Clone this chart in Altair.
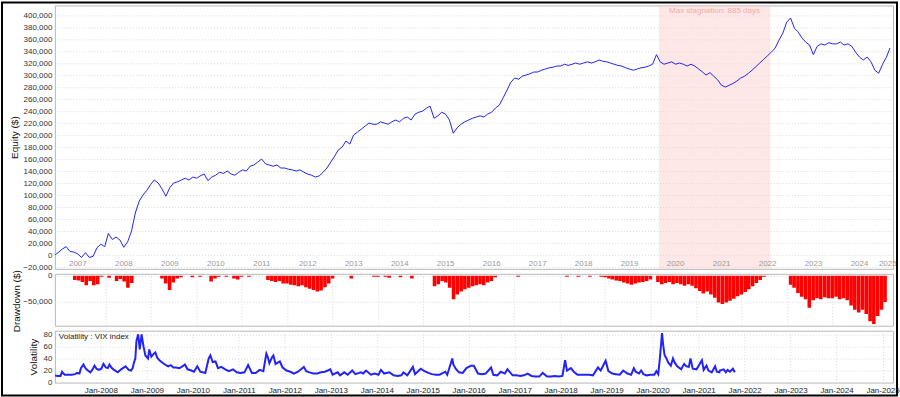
import altair as alt
import pandas as pd

FONT = "Liberation Sans"

# ---------------- data ----------------
# Monthly equity, in thousands of $, Jan-2007 .. Mar-2025
equity_k = [
    0, 5, 10, 14, 6, 5, 2, -4, 4, -4, -2, 12,            # 2007
    18, 14, 36, 26, 30, 25, 13, 22, 40, 70, 90, 100,     # 2008
    108, 118, 125, 120, 110, 98, 112, 120, 122, 125, 128, 125,  # 2009
    130, 128, 132, 135, 124, 130, 133, 138, 136, 140, 135, 133,  # 2010
    138, 142, 140, 148, 150, 155, 160, 152, 150, 148, 150, 145,  # 2011
    145, 143, 142, 140, 142, 138, 135, 133, 130, 132, 138, 145,  # 2012
    155, 165, 175, 180, 190, 185, 200, 205, 210, 215, 220, 218,  # 2013
    218, 222, 220, 218, 222, 225, 222, 228, 230, 225, 235, 238,  # 2014
    240, 245, 248, 228, 232, 238, 235, 225, 203, 212, 218, 222,  # 2015
    225, 228, 230, 232, 230, 235, 238, 245, 250, 262, 275, 288,  # 2016
    295, 293, 298, 300, 302, 305, 305, 308, 310, 312, 313, 315,  # 2017
    315, 318, 316, 318, 320, 318, 320, 322, 320, 322, 325, 323,  # 2018
    322, 320, 318, 316, 315, 312, 310, 308, 310, 312, 313, 315,  # 2019
    318, 334, 322, 318, 320, 322, 318, 320, 318, 315, 318, 315,  # 2020
    310, 305, 300, 304, 298, 292, 283, 280, 283, 286, 290, 295,  # 2021
    298, 303, 308, 314, 320, 326, 332, 338, 345, 358, 370, 388,  # 2022
    395, 378, 372, 362, 355, 350, 334, 348, 352, 350, 354, 352,  # 2023
    352, 355, 350, 352, 348, 338, 330, 325, 330, 322, 308, 303,  # 2024
    318, 330, 345,                                       # 2025
]

vix_dates = [
    "2007-01-03", "2007-01-20", "2007-02-15", "2007-02-27", "2007-03-10", "2007-03-20", "2007-04-15",
    "2007-05-15", "2007-06-10", "2007-06-27", "2007-07-15", "2007-07-27", "2007-08-16", "2007-09-01",
    "2007-09-20", "2007-10-10", "2007-10-25", "2007-11-12", "2007-11-28", "2007-12-15",
    "2008-01-05", "2008-01-22", "2008-02-10", "2008-02-25", "2008-03-10", "2008-03-25", "2008-04-15",
    "2008-05-15", "2008-06-10", "2008-07-15", "2008-08-10", "2008-08-28", "2008-09-10", "2008-09-20",
    "2008-10-01", "2008-10-10", "2008-10-24", "2008-11-05", "2008-11-20", "2008-12-05", "2008-12-20",
    "2009-01-10", "2009-01-20", "2009-02-05", "2009-02-25", "2009-03-09", "2009-03-25", "2009-04-15",
    "2009-05-10", "2009-06-01", "2009-06-20", "2009-07-10", "2009-07-30", "2009-08-20", "2009-09-15",
    "2009-10-05", "2009-10-30", "2009-11-20", "2009-12-20",
    "2010-01-10", "2010-02-05", "2010-03-01", "2010-04-10", "2010-05-07", "2010-05-20", "2010-06-08",
    "2010-06-30", "2010-07-20", "2010-08-15", "2010-09-15", "2010-10-15", "2010-11-16", "2010-12-15",
    "2011-01-15", "2011-02-15", "2011-03-16", "2011-04-15", "2011-05-15", "2011-06-15", "2011-07-15",
    "2011-08-08", "2011-08-20", "2011-09-01", "2011-09-22", "2011-10-03", "2011-10-20", "2011-11-23",
    "2011-12-15",
    "2012-01-15", "2012-02-15", "2012-03-15", "2012-04-15", "2012-06-01", "2012-06-20", "2012-07-15",
    "2012-08-15", "2012-09-15", "2012-10-15", "2012-11-15", "2012-12-28",
    "2013-01-15", "2013-02-25", "2013-03-15", "2013-04-18", "2013-05-15", "2013-06-20", "2013-07-15",
    "2013-08-28", "2013-09-15", "2013-10-08", "2013-11-15", "2013-12-15",
    "2014-01-15", "2014-02-03", "2014-03-01", "2014-04-11", "2014-05-15", "2014-06-15", "2014-07-15",
    "2014-08-01", "2014-09-01", "2014-10-15", "2014-11-01", "2014-12-16",
    "2015-01-15", "2015-02-15", "2015-03-15", "2015-04-15", "2015-05-15", "2015-06-29", "2015-07-15",
    "2015-08-24", "2015-09-01", "2015-09-20", "2015-10-15", "2015-11-15", "2015-12-14",
    "2016-01-20", "2016-02-11", "2016-03-15", "2016-04-15", "2016-05-15", "2016-06-27", "2016-07-15",
    "2016-08-15", "2016-09-12", "2016-10-15", "2016-11-04", "2016-12-15",
    "2017-01-15", "2017-02-15", "2017-03-15", "2017-04-13", "2017-05-15", "2017-06-15", "2017-07-15",
    "2017-08-11", "2017-09-15", "2017-10-15", "2017-11-15", "2017-12-15",
    "2018-01-15", "2018-02-05", "2018-02-20", "2018-03-23", "2018-04-15", "2018-05-15", "2018-06-15",
    "2018-07-15", "2018-08-15", "2018-09-15", "2018-10-24", "2018-11-15", "2018-12-24",
    "2019-01-15", "2019-02-15", "2019-03-15", "2019-04-15", "2019-05-13", "2019-06-15", "2019-07-15",
    "2019-08-05", "2019-08-20", "2019-09-15", "2019-10-02", "2019-10-20", "2019-11-15", "2019-12-15",
    "2020-01-15", "2020-01-31", "2020-02-15", "2020-02-28", "2020-03-16", "2020-03-25", "2020-04-05",
    "2020-04-20", "2020-05-05", "2020-05-25", "2020-06-11", "2020-06-25", "2020-07-15", "2020-08-15",
    "2020-09-08", "2020-09-25", "2020-10-15", "2020-10-28", "2020-11-15", "2020-12-15",
    "2021-01-27", "2021-02-10", "2021-03-04", "2021-03-20", "2021-04-15", "2021-05-12", "2021-05-25",
    "2021-06-15", "2021-06-18", "2021-07-19", "2021-08-05", "2021-08-19", "2021-09-07", "2021-09-30",
    "2021-10-15",
]
vix_values = [
    12, 11, 11, 18, 15, 13, 13, 13, 14, 16, 15, 24, 30, 24, 20, 17, 21, 28, 23, 21,
    23, 31, 25, 24, 30, 25, 21, 17, 22, 27, 21, 20, 24, 33, 40, 69, 80, 55, 80, 60, 45,
    40, 55, 43, 48, 50, 41, 36, 32, 29, 27, 29, 25, 25, 24, 26, 30, 22, 20,
    18, 27, 18, 16, 40, 45, 34, 35, 24, 26, 22, 19, 22, 17,
    16, 17, 29, 16, 16, 21, 19, 48, 42, 32, 42, 45, 31, 35, 25,
    20, 18, 15, 18, 26, 19, 17, 15, 15, 17, 18, 22,
    13, 17, 12, 17, 13, 20, 14, 17, 15, 20, 13, 15,
    13, 21, 15, 17, 12, 11, 12, 17, 12, 26, 14, 23,
    19, 16, 14, 13, 13, 18, 13, 40, 30, 23, 17, 16, 24,
    28, 28, 15, 14, 15, 25, 13, 12, 18, 15, 22, 12,
    12, 11, 12, 15, 11, 10, 10, 16, 10, 10, 11, 10,
    11, 37, 20, 24, 18, 13, 13, 13, 13, 12, 25, 20, 36,
    19, 15, 14, 13, 20, 15, 13, 24, 18, 15, 20, 14, 12, 13,
    13, 19, 14, 40, 82, 63, 46, 40, 33, 28, 40, 33, 27, 22, 31, 27, 26, 40, 23, 22,
    37, 21, 28, 20, 17, 27, 18, 17, 20, 22, 17, 21, 18, 23, 17,
]

top_years = list(range(2007, 2026))          # year labels inside the equity panel
axis_years = list(range(2008, 2026))         # "Jan-YYYY" ticks on the bottom axis
dd_ticks = [0, -50000]
stag_start = "2020-02-20"
stag_days = 885
stag_label = "Max stagnation: 885 days"
x_start = "2007-01-01"
x_end = "2025-03-25"

# ---------------- tables ----------------
eq = pd.DataFrame({
    "date": pd.date_range("2007-01-01", periods=len(equity_k), freq="MS").strftime("%Y-%m-%d"),
    "equity": [v * 1000 for v in equity_k],
})
eq["drawdown"] = eq["equity"] - eq["equity"].cummax()

vix = pd.DataFrame({"date": vix_dates, "vix": vix_values})

end_ts = pd.Timestamp(x_end)
yl = []
for y in top_years:
    a = pd.Timestamp(f"{y}-01-01")
    b = min(pd.Timestamp(f"{y + 1}-01-01"), end_ts)
    yl.append({"pos": (a + (b - a) / 2).strftime("%Y-%m-%d %H:%M"), "label": str(y)})
years_df = pd.DataFrame(yl)

s0 = pd.Timestamp(stag_start)
s1 = s0 + pd.Timedelta(days=stag_days)
stag_df = pd.DataFrame({
    "start": [s0.strftime("%Y-%m-%d")],
    "end": [s1.strftime("%Y-%m-%d")],
    "mid": [(s0 + (s1 - s0) / 2).strftime("%Y-%m-%d")],
    "label": [stag_label],
})

def dt(s):
    t = pd.Timestamp(s)
    return alt.DateTime(year=t.year, month=t.month, date=t.day)

xscale = alt.Scale(domain=[dt(x_start), dt(x_end)])
year_ticks = [alt.DateTime(year=y, month=1, date=1) for y in axis_years]

W = 840
H_TOP, H_DD, H_VOL = 264, 52, 52
DOT = [1, 2]
GRID = "#d9d9d9"
BLUE = "#2323f5"

# ---------------- equity panel ----------------
x_top = alt.X("date:T", scale=xscale, title=None,
              axis=alt.Axis(values=year_ticks, labels=False, ticks=False, domain=False,
                            grid=True, gridColor="#dcdcdc", gridWidth=1))

stag_rect = alt.Chart(stag_df).mark_rect(color="#fbcaca", opacity=0.45).encode(
    x=alt.X("start:T", scale=xscale, axis=None), x2="end:T")
stag_text = alt.Chart(stag_df).mark_text(fontSize=8, color="#f3aaaa", font=FONT,
                                         baseline="middle").encode(
    x=alt.X("mid:T", scale=xscale), y=alt.value(6), text="label:N")
year_text = alt.Chart(years_df).mark_text(fontSize=8, color="#9a9a9a", font=FONT,
                                          baseline="middle", clip=False).encode(
    x=alt.X("pos:T", scale=xscale), y=alt.value(H_TOP - 5), text="label:N")
eq_line = alt.Chart(eq).mark_line(color=BLUE, strokeWidth=1, clip=True).encode(
    x=x_top,
    y=alt.Y("equity:Q", scale=alt.Scale(domain=[-23000, 416000], nice=False),
            axis=alt.Axis(values=list(range(-20000, 400001, 20000)), format=",.0f",
                          labelOverlap=False,
                          title="Equity ($)", titleX=-40, titleY=H_TOP / 2,
                          titleBaseline="middle", titleAlign="center",
                          gridDash=DOT, gridColor=GRID)))
frame = alt.Chart(pd.DataFrame({"k": [0]})).mark_rect(
    fillOpacity=0, stroke="black", strokeWidth=2, clip=False).encode(
    x=alt.value(-53), x2=alt.value(844), y=alt.value(-3), y2=alt.value(391))

top = alt.layer(stag_rect, year_text, stag_text, eq_line, frame).properties(width=W, height=H_TOP)

# ---------------- drawdown panel ----------------
dd = alt.Chart(eq).mark_bar(color="#ff0000", width=3.6, clip=True).encode(
    x=alt.X("date:T", scale=xscale, title=None,
            axis=alt.Axis(values=year_ticks, labels=False, ticks=False, domain=False,
                          grid=True, gridDash=DOT, gridColor=GRID)),
    y=alt.Y("drawdown:Q", scale=alt.Scale(domain=[-95500, 3700], nice=False),
            axis=alt.Axis(values=dd_ticks, format=",.0f", title="Drawdown ($)",
                          labelOverlap=False, labelFlush=False,
                          titleX=-38, titleY=H_DD / 2 + 1, titleBaseline="middle",
                          titleAlign="center", gridDash=DOT, gridColor=GRID)),
).properties(width=W, height=H_DD)

# ---------------- volatility panel ----------------
vol_line = alt.Chart(vix).mark_line(color=BLUE, strokeWidth=2, clip=True).encode(
    x=alt.X("date:T", scale=xscale, title=None,
            axis=alt.Axis(values=year_ticks, format="%b-%Y", ticks=False, domain=False,
                          grid=True, gridDash=DOT, gridColor=GRID, labelPadding=4,
                          labelColor="#222222", labelFontSize=8)),
    y=alt.Y("vix:Q", scale=alt.Scale(domain=[0, 86], nice=False),
            axis=alt.Axis(values=[0, 20, 40, 60, 80], format=".0f", title="Volatility",
                          labelOverlap=False, labelFlush=False,
                          titleX=-21, titleY=H_VOL / 2, titleBaseline="middle",
                          titleAlign="center", gridDash=DOT, gridColor=GRID)))
vol_text = alt.Chart(pd.DataFrame({"t": ["Volatility : VIX index"]})).mark_text(
    fontSize=8, color="#222222", font=FONT, align="left", baseline="middle").encode(
    x=alt.value(4), y=alt.value(6), text="t:N")
vol = alt.layer(vol_line, vol_text).properties(width=W, height=H_VOL)

chart = alt.vconcat(top, dd, vol, spacing=5, bounds="flush").properties(
    padding={"left": 0, "top": 0, "right": 0, "bottom": 0}, background="white"
).configure_view(stroke="#b8b8b8", strokeWidth=1).configure_axis(
    labelFont=FONT, titleFont=FONT, labelFontSize=8, labelColor="#333333",
    labelPadding=3, ticks=False, domain=False, titleFontSize=10,
    titleFontWeight="normal", titleColor="#111111", titleAngle=-90,
)

chart.save("out.html", embed_options={"renderer": "svg", "actions": False})
